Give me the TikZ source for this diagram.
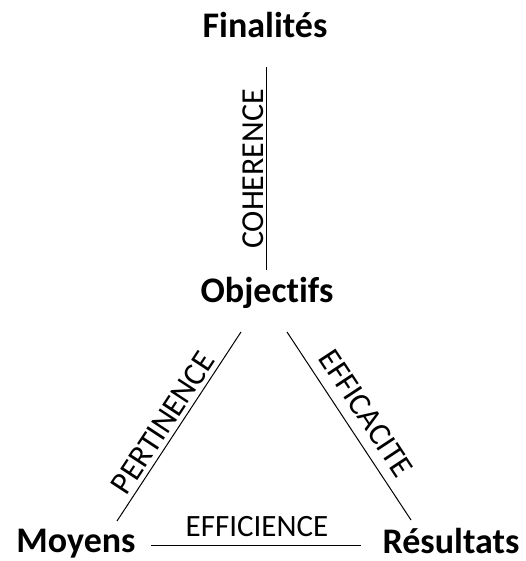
\documentclass[tikz,border=0pt]{standalone}
\usepackage{fontspec}
\setmainfont[Ligatures={NoCommon}]{Carlito}
\begin{document}
\begin{tikzpicture}[x=1pt,y=1pt,
  term/.style={font=\fontsize{36}{42}\selectfont\bfseries, inner sep=0pt, anchor=base},
  rel/.style={font=\fontsize{32}{38}\selectfont, inner sep=0pt},
  link/.style={draw=black, line width=1pt}]
\useasboundingbox (0,0) rectangle (525,561);
\node[term] (fin) at (265,523) {Finalités};
\node[term] (obj) at (267,258) {Objectifs};
\node[term] (moy) at (76,9) {Moyens};
\node[term] (res) at (451,8) {Résultats};
% connector ends
\coordinate (c1) at (266,494);
\coordinate (c2) at (266,291);
\coordinate (p1) at (241,229);
\coordinate (p2) at (117,40);
\coordinate (e1) at (287,229);
\coordinate (e2) at (411,41);
\coordinate (f1) at (151,15);
\coordinate (f2) at (361,15);
\draw[link] (c1) -- (c2);
\draw[link] (p1) -- (p2);
\draw[link] (e1) -- (e2);
\draw[link] (f1) -- (f2);
\node[rel, rotate=90] (coh) at (253,392) {COHERENCE};
\node[rel, rotate=56.7] (per) at (163,138) {PERTINENCE};
\node[rel, rotate=-56.6] (eca) at (366,148) {EFFICACITE};
\node[rel, anchor=base, font=\fontsize{31}{36}\selectfont] (eci) at (257,24) {EFFICIENCE};
\end{tikzpicture}
\end{document}
